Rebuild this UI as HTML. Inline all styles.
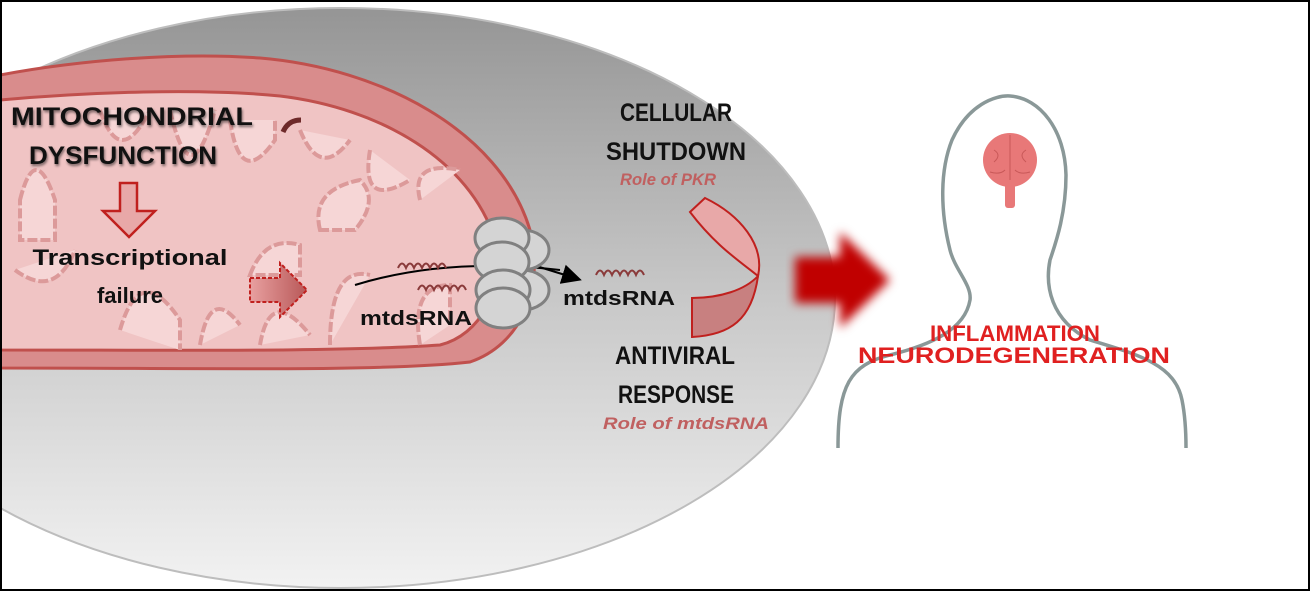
<!DOCTYPE html>
<html><head><meta charset="utf-8"><style>
html,body{margin:0;padding:0;background:#fff;}
svg{display:block;}
text{font-family:"Liberation Sans",sans-serif;}
</style></head><body>
<svg width="1310" height="591" viewBox="0 0 1310 591" xmlns="http://www.w3.org/2000/svg">
<defs>
<linearGradient id="g" x1="0" y1="0" x2="0" y2="1">
<stop offset="0" stop-color="#959595"/>
<stop offset="0.5" stop-color="#c8c8c8"/>
<stop offset="1" stop-color="#f2f2f2"/>
</linearGradient>
<linearGradient id="ar" x1="0" y1="0" x2="1" y2="0">
<stop offset="0" stop-color="#e8a0a0"/><stop offset="1" stop-color="#b85858"/>
</linearGradient>
<filter id="bl"><feGaussianBlur stdDeviation="5"/></filter>
<filter id="sh"><feGaussianBlur stdDeviation="1.2"/></filter>
<marker id="m" markerWidth="10" markerHeight="10" refX="8" refY="5" orient="auto"><path d="M0,0 L10,5 L0,10z" fill="#000"/></marker>
</defs>
<rect x="0" y="0" width="1310" height="591" fill="#fff"/>
<ellipse cx="341" cy="298" rx="494" ry="290" fill="url(#g)" stroke="#bdbdbd" stroke-width="2"/>
<path d="M0,75 C80,60 180,52 260,58 C380,68 500,130 530,230 C545,290 520,345 470,362 C380,372 200,368 0,368 Z" fill="#d98c8c" stroke="#c0504d" stroke-width="3"/>
<path d="M0,100 C90,92 200,88 280,96 C380,108 470,160 495,240 C505,290 480,335 440,345 C340,352 180,350 0,350 Z" fill="#f0c4c4" stroke="#c0504d" stroke-width="3"/>
<g fill="#f6d6d6" stroke="#dc9a9a" stroke-width="4" stroke-dasharray="10 3">
<path d="M20,200 q15,-60 35,0 v40 h-35z"/>
<path d="M100,110 q20,60 50,0"/>
<path d="M170,110 q20,90 45,0"/>
<path d="M230,120 q10,70 45,20 v-20"/>
<path d="M300,130 q20,50 50,10"/>
<path d="M370,150 q-10,60 40,30"/>
<path d="M320,230 q-10,-40 40,-50 q20,20 -5,50z"/>
<path d="M420,200 q-10,-40 40,-30"/>
<path d="M15,270 q40,30 60,-20"/>
<path d="M120,330 q20,-70 60,-10 v30"/>
<path d="M200,345 q10,-60 40,-20"/>
<path d="M260,345 q10,-60 50,-10"/>
<path d="M330,345 q0,-80 40,-70"/>
<path d="M420,345 q-10,-60 30,-60 v40"/>
<path d="M250,275 q15,-40 50,-30 v30z"/>
</g>
<path d="M283,132 q5,-12 18,-12" fill="none" stroke="#6e2a2a" stroke-width="5"/>
<g filter="url(#sh)" opacity="0.5"><text x="133" y="127" font-size="25" font-weight="bold" text-anchor="middle" fill="#000" textLength="242" lengthAdjust="spacingAndGlyphs">MITOCHONDRIAL</text><text x="124" y="166" font-size="25" font-weight="bold" text-anchor="middle" fill="#000" textLength="188" lengthAdjust="spacingAndGlyphs">DYSFUNCTION</text></g>
<text x="132" y="125" font-size="25" font-weight="bold" text-anchor="middle" fill="#111" textLength="242" lengthAdjust="spacingAndGlyphs">MITOCHONDRIAL</text>
<text x="123" y="164" font-size="25" font-weight="bold" text-anchor="middle" fill="#111" textLength="188" lengthAdjust="spacingAndGlyphs">DYSFUNCTION</text>
<path d="M120,183 h17 v28 h18 l-26,26 l-26,-26 h17z" fill="#e8a8a8" stroke="#c0201e" stroke-width="2.5"/>
<text x="130" y="265" font-size="22" font-weight="bold" text-anchor="middle" fill="#111" textLength="195" lengthAdjust="spacingAndGlyphs">Transcriptional</text>
<text x="130" y="303" font-size="22" font-weight="bold" text-anchor="middle" fill="#111">failure</text>
<path d="M250,278 h30 v-15 l27,27 l-27,27 v-15 h-30z" fill="url(#ar)" stroke="#c0201e" stroke-width="2" stroke-dasharray="4 2"/>
<path d="M355,285 C420,265 490,262 560,270" fill="none" stroke="#000" stroke-width="2"/>
<path d="M533,265 L578,279" stroke="#000" stroke-width="2" marker-end="url(#m)" fill="none"/>
<g fill="none" stroke="#8a3a3a" stroke-width="2">
<path d="M398,268 q4,-9 8,0 q4,-9 8,0 q4,-9 8,0 q4,-9 8,0 q4,-9 8,0 q4,-9 8,0"/>
<path d="M418,290 q4,-9 8,0 q4,-9 8,0 q4,-9 8,0 q4,-9 8,0 q4,-9 8,0 q4,-9 8,0"/>
<path d="M596,275 q4,-9 8,0 q4,-9 8,0 q4,-9 8,0 q4,-9 8,0 q4,-9 8,0 q4,-9 8,0"/>
</g>
<text x="360" y="325" font-size="20" font-weight="bold" fill="#111" textLength="112" lengthAdjust="spacingAndGlyphs">mtdsRNA</text>
<text x="563" y="305" font-size="20" font-weight="bold" fill="#111" textLength="112" lengthAdjust="spacingAndGlyphs">mtdsRNA</text>
<g fill="#d4d4d4" stroke="#808080" stroke-width="3">
<ellipse cx="522" cy="250" rx="27" ry="20"/>
<ellipse cx="522" cy="290" rx="27" ry="20"/>
<ellipse cx="502" cy="238" rx="27" ry="20"/>
<ellipse cx="502" cy="262" rx="27" ry="20"/>
<ellipse cx="503" cy="290" rx="27" ry="20"/>
<ellipse cx="503" cy="308" rx="27" ry="20"/>
</g>
<path d="M690,212 L705,198 C740,215 765,245 758,276 C738,260 715,245 690,212Z" fill="#e8a8a8" stroke="#c0201e" stroke-width="2"/>
<path d="M758,276 C752,320 730,335 692,337 L692,298 C720,298 745,290 758,276Z" fill="#c88080" stroke="#c0201e" stroke-width="2"/>
<text x="676" y="121" font-size="25" text-anchor="middle" fill="#111" font-weight="bold" textLength="112" lengthAdjust="spacingAndGlyphs">CELLULAR</text>
<text x="676" y="160" font-size="25" text-anchor="middle" fill="#111" font-weight="bold" textLength="140" lengthAdjust="spacingAndGlyphs">SHUTDOWN</text>
<text x="668" y="185" font-size="17" text-anchor="middle" fill="#c06060" font-weight="bold" font-style="italic" textLength="96" lengthAdjust="spacingAndGlyphs">Role of PKR</text>
<text x="675" y="364" font-size="25" text-anchor="middle" fill="#111" font-weight="bold" textLength="120" lengthAdjust="spacingAndGlyphs">ANTIVIRAL</text>
<text x="676" y="403" font-size="25" text-anchor="middle" fill="#111" font-weight="bold" textLength="116" lengthAdjust="spacingAndGlyphs">RESPONSE</text>
<text x="686" y="429" font-size="17" text-anchor="middle" fill="#c06060" font-weight="bold" font-style="italic" textLength="166" lengthAdjust="spacingAndGlyphs">Role of mtdsRNA</text>
<path d="M795,257 h45 v-25 l50,48 l-50,48 v-25 h-45z" fill="#c00000" filter="url(#bl)"/>
<path d="M838,448 C838,385 850,365 890,355 C930,345 965,330 970,300 C972,285 955,270 950,250 C940,210 940,170 952,140 C968,105 995,95 1010,96 C1040,98 1065,130 1066,175 C1066,215 1055,245 1050,260 C1045,285 1050,320 1090,340 C1140,355 1175,365 1182,400 C1186,420 1186,440 1186,448" fill="#fff" stroke="#8a9898" stroke-width="3.5"/>
<g fill="#e87878">
<ellipse cx="1010" cy="160" rx="27" ry="27"/>
<rect x="1005" y="180" width="10" height="28" rx="3"/>
</g>
<g stroke="#c85858" stroke-width="1" fill="none"><path d="M1010,135 v45 M994,150 q8,5 0,12 M1026,150 q-8,5 0,12 M990,172 q10,3 15,-2 M1030,172 q-10,3 -15,-2"/></g>
<text x="1015" y="341" font-size="22" font-weight="bold" text-anchor="middle" fill="#e02020" textLength="170" lengthAdjust="spacingAndGlyphs">INFLAMMATION</text>
<text x="1014" y="363" font-size="22" font-weight="bold" text-anchor="middle" fill="#e02020" textLength="312" lengthAdjust="spacingAndGlyphs">NEURODEGENERATION</text>
<rect x="1" y="1" width="1308" height="589" fill="none" stroke="#000" stroke-width="2"/>
</svg>
</body></html>
